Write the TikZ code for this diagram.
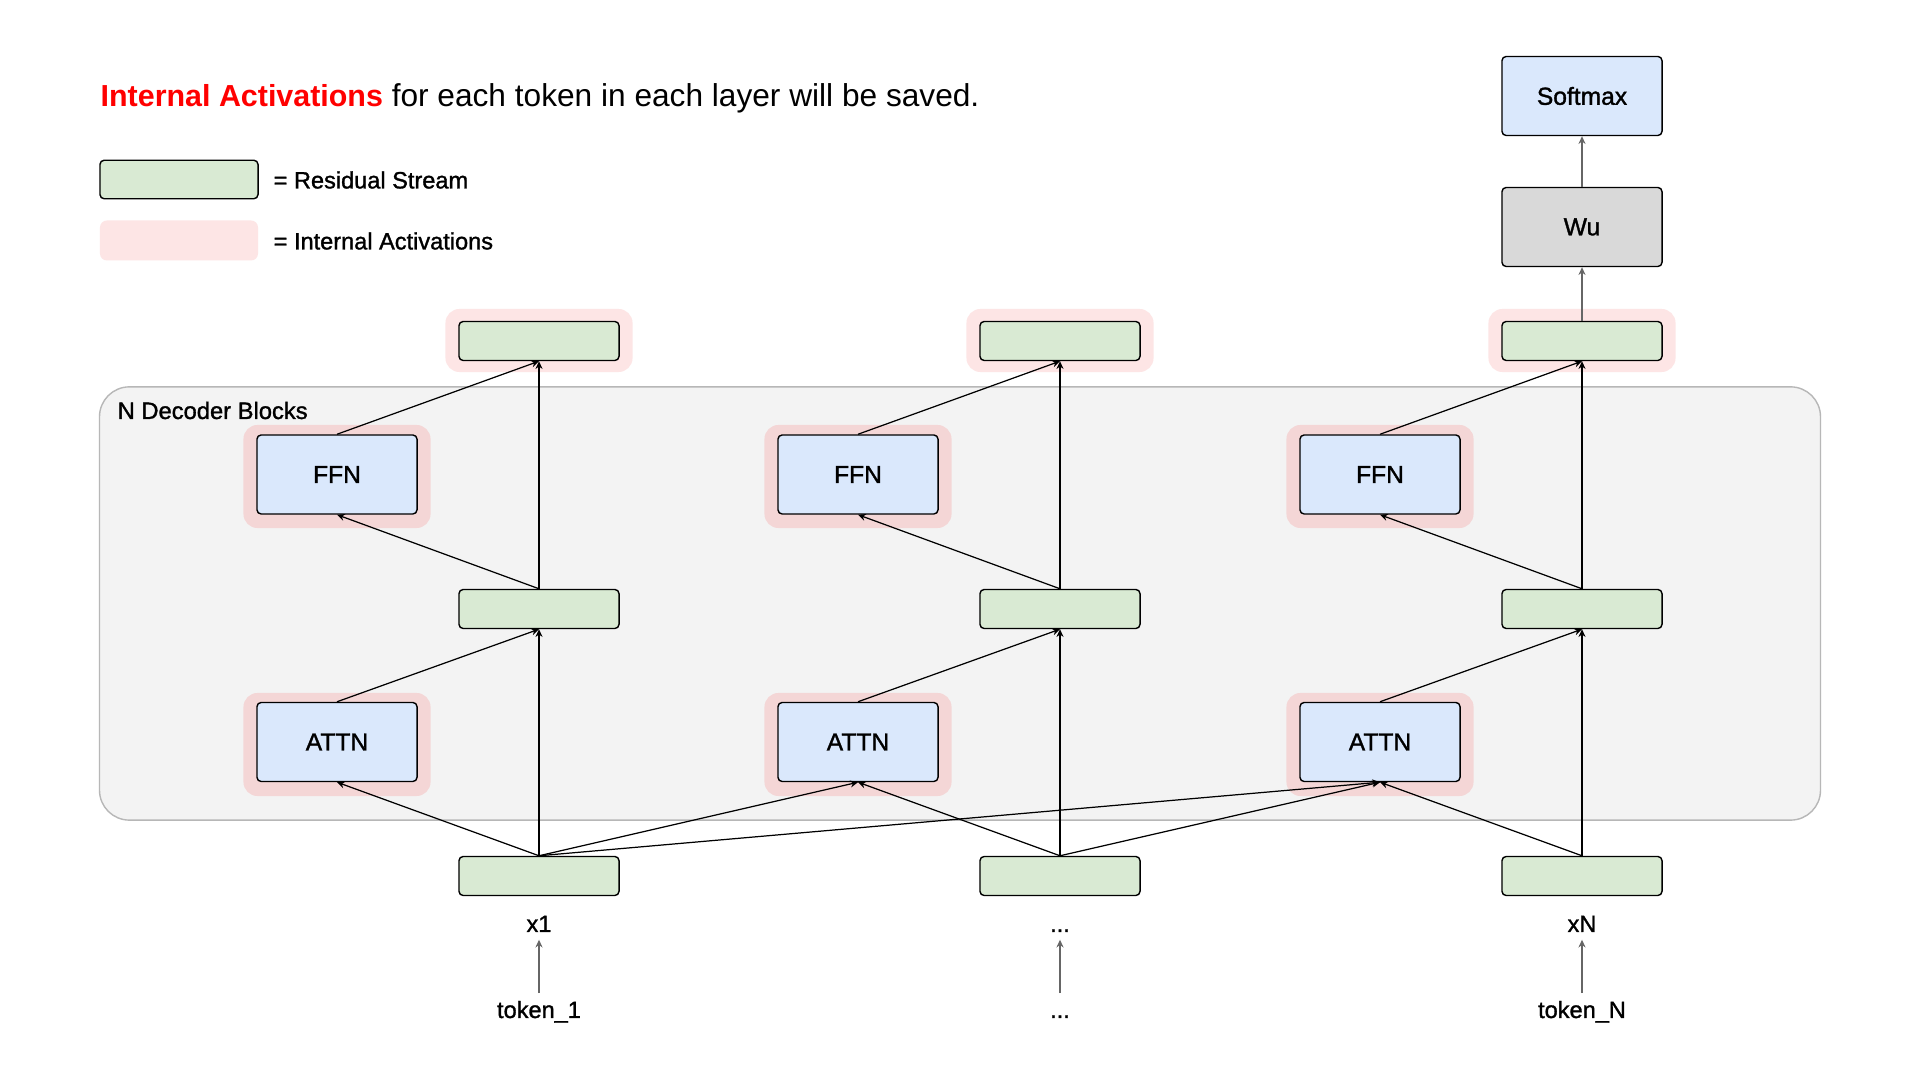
\documentclass[tikz,border=0pt]{standalone}
\usepackage{fontspec}
\setmainfont{Liberation Sans}
\newfontfamily\medfont[FakeBold=1.3]{Liberation Sans}
\usetikzlibrary{arrows.meta,calc}
\definecolor{rsgreen}{HTML}{D9EAD3}
\definecolor{opblue}{HTML}{DAE8FC}
\definecolor{wugray}{HTML}{D9D9D9}
\definecolor{haloout}{HTML}{FDE5E5}
\definecolor{haloin}{HTML}{F4D6D6}
\definecolor{decbg}{HTML}{F3F3F3}
\definecolor{decborder}{HTML}{B7B7B7}
\definecolor{titlered}{HTML}{FF0000}
\definecolor{arrgray}{HTML}{666666}
\begin{document}
\begin{tikzpicture}[x=0.01cm,y=-0.01cm,
  stream/.style={draw=black, line width=0.4pt, fill=rsgreen, rounded corners=1.2pt,
    minimum width=1.6cm, minimum height=0.39cm, inner sep=0pt},
  opbox/.style={draw=black, line width=0.4pt, fill=opblue, rounded corners=1.2pt,
    minimum width=1.6cm, minimum height=0.79cm, inner sep=0pt,
    font=\medfont\fontsize{7}{8}\selectfont},
  halo/.style={fill=#1, rounded corners=4pt, inner sep=0pt, minimum width=1.87cm},
  conn/.style={draw=black, line width=0.35pt, -{Stealth[length=2.2pt,width=2pt]}},
  gconn/.style={draw=arrgray, line width=0.45pt, -{Stealth[length=2.2pt,width=2pt]}},
  lbl/.style={font=\medfont\fontsize{6.7}{7}\selectfont, anchor=base, inner sep=2pt,
    text height=4.9pt, text depth=0pt},
  legtxt/.style={font=\medfont\fontsize{6.7}{7}\selectfont, anchor=west, inner sep=0pt},
]
\useasboundingbox (0,0) rectangle (1920,1080);
\fill[white] (0,0) rectangle (1920,1080);

% title
\node[anchor=base west, inner sep=0pt, font=\fontsize{9}{10}\selectfont] (title) at (100,107)
  {\textcolor{titlered}{\fontsize{8.65}{10}\selectfont\bfseries Internal Activations} for each token in each layer will be saved.};

% legend
\node[stream, minimum width=1.58cm, minimum height=0.385cm] (lg) at (179,179.5) {};
\node[legtxt] (lgt) at (273,180) {= Residual Stream};
\node[fill=haloout, rounded corners=2pt, inner sep=0pt, minimum width=1.58cm, minimum height=0.4cm] (lp) at (179,240.5) {};
\node[legtxt] (lpt) at (273,241) {= Internal Activations};

% decoder background
\node[fill=decbg, draw=decborder, line width=0.4pt, rounded corners=8.5pt,
  minimum width=17.2cm, minimum height=4.33cm, inner sep=0pt] (dec) at (960,603.5) {};
\node[anchor=base west, inner sep=0pt, font=\medfont\fontsize{6.75}{7}\selectfont] (dect) at (117,419) {N Decoder Blocks};

% columns
\foreach \i/\x in {1/539,2/1060,3/1582}{
  \node[halo=haloout, minimum height=0.63cm] (th\i) at (\x,340.5) {};
  \node[halo=haloin, minimum height=1.03cm] (fh\i) at (\x-202,476.5) {};
  \node[halo=haloin, minimum height=1.03cm] (ah\i) at (\x-202,744.5) {};
  \node[stream] (t\i) at (\x,341) {};
  \node[stream] (m\i) at (\x,609) {};
  \node[stream] (s\i) at (\x,876) {};
  \node[opbox] (f\i) at (\x-202,474.5) {FFN};
  \node[opbox] (a\i) at (\x-202,742) {ATTN};
}

% head
\node[opbox, fill=wugray] (wu) at (1582,227) {Wu};
\node[opbox] (sm) at (1582,96) {Softmax};

% labels
\node[lbl] (x1) at (539,932) {x1};
\node[lbl] (x2) at (1060,932) {...};
\node[lbl] (x3) at (1582,932) {xN};
\node[lbl] (k1) at (539,1018) {token\_1};
\node[lbl] (k2) at (1060,1018) {...};
\node[lbl] (k3) at (1582,1018) {token\_N};

% connectors
\foreach \i in {1,2,3}{
  \draw[conn] (s\i.north) -- (m\i.south);
  \draw[conn] (a\i.north) -- (m\i.south);
  \draw[conn] (m\i.north) -- (f\i.south);
  \draw[conn] (m\i.north) -- (t\i.south);
  \draw[conn] (f\i.north) -- (t\i.south);
  \draw[gconn] (k\i.north) -- (x\i.south);
}
\draw[conn] (s1.north) -- (a1.south);
\draw[conn] (s1.north) -- (a2.south);
\draw[conn] (s1.north) -- (a3.south);
\draw[conn] (s2.north) -- (a2.south);
\draw[conn] (s2.north) -- (a3.south);
\draw[conn] (s3.north) -- (a3.south);
\draw[gconn] (t3.north) -- (wu.south);
\draw[gconn] (wu.north) -- (sm.south);
\end{tikzpicture}
\end{document}
